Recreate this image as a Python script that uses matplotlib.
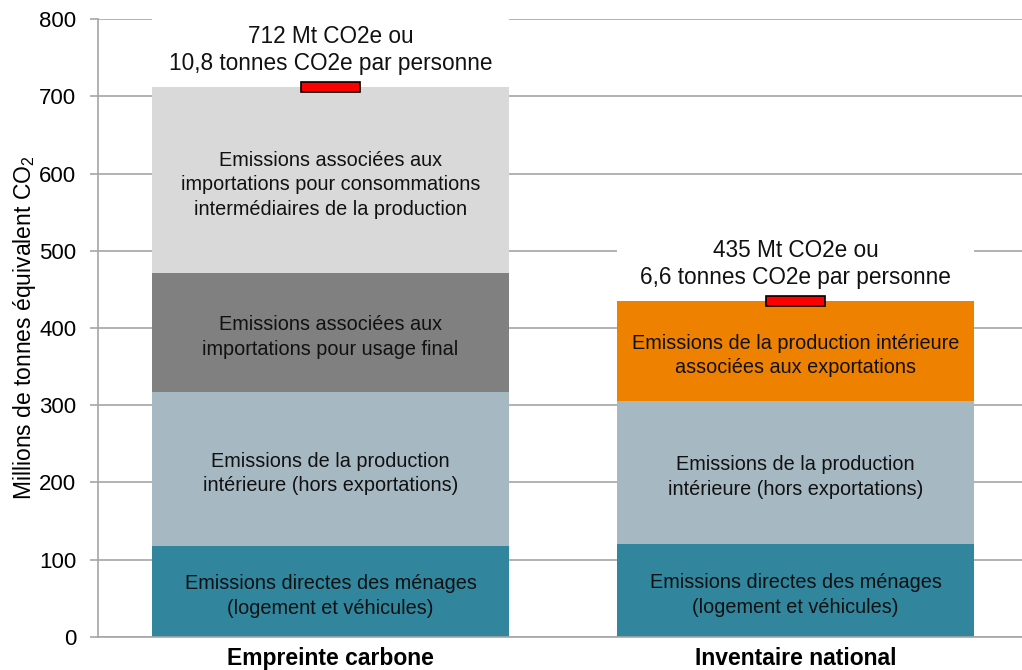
import numpy as np
import matplotlib.pyplot as plt
from matplotlib.patches import Rectangle

plt.rcParams['font.family'] = ['Liberation Sans', 'DejaVu Sans']
plt.rcParams['mathtext.fontset'] = 'custom'
plt.rcParams['mathtext.rm'] = 'Liberation Sans'
plt.rcParams['mathtext.it'] = 'Liberation Sans:italic'

# Emissions en Mt CO2e, par bloc et par approche
categories = ['Empreinte carbone', 'Inventaire national']
menages = [118, 121]
production = [199, 185]
import_final = [154, 0]
import_interm = [241, 0]
exportations = [0, 129]
totaux = [712, 435]
annotations = ['712 Mt CO2e ou\n10,8 tonnes CO2e par personne',
               '435 Mt CO2e ou\n6,6 tonnes CO2e par personne']

segments = [
    (menages, '#31859C', 'Emissions directes des ménages\n(logement et véhicules)'),
    (production, '#A6B9C2', 'Emissions de la production\nintérieure (hors exportations)'),
    (import_final, '#808080', 'Emissions associées aux\nimportations pour usage final'),
    (import_interm, '#D9D9D9', 'Emissions associées aux\nimportations pour consommations\nintermédiaires de la production'),
    (exportations, '#EE8100', 'Emissions de la production intérieure\nassociées aux exportations'),
]

fig = plt.figure(figsize=(10.22, 6.7), dpi=100)
ax = fig.add_axes([0.0959, 0.0493, 0.9041, 0.9223])

x = np.arange(len(categories))
width = 0.768
bottom = np.zeros(len(categories))
for vals, color, label in segments:
    vals = np.array(vals, dtype=float)
    ax.bar(x, vals, width, bottom=bottom, color=color, zorder=2)
    for i, v in enumerate(vals):
        if v > 0:
            ax.text(x[i], bottom[i] + v / 2 - 6, label, ha='center', va='center',
                    fontsize=14.3, color='#111111', linespacing=1.38, zorder=4)
    bottom += vals

# marqueurs rouges au niveau du total
for i, t in enumerate(totaux):
    ax.bar(x[i], 14, 0.125, bottom=t - 7, color='#FF0000', edgecolor='black',
           linewidth=1.2, zorder=5)
    ax.add_patch(Rectangle((x[i] - width / 2, t + 12), width, 80,
                           facecolor='white', edgecolor='none', zorder=3))
    ax.text(x[i], t + 48, annotations[i], ha='center', va='center',
            fontsize=16.3, color='#111111', linespacing=1.26, zorder=4)

ax.set_xlim(-0.5, 1.487)
ax.set_ylim(0, 800)
ax.set_yticks(np.arange(0, 801, 100))
ax.yaxis.grid(True, color='#A6A6A6', linewidth=1.2, zorder=0)
ax.set_axisbelow(True)
ax.set_xticks(x)
ax.set_xticklabels(categories, fontsize=16.5, fontweight='bold')
ax.tick_params(axis='x', length=0, pad=7)
ax.tick_params(axis='y', length=5.5, width=1.2, color='#A6A6A6', labelsize=16, pad=10)

for side in ['top', 'right']:
    ax.spines[side].set_visible(False)
ax.spines['left'].set_color('#A6A6A6')
ax.spines['left'].set_linewidth(1.2)
ax.spines['bottom'].set_color('#A6A6A6')
ax.spines['bottom'].set_linewidth(1.2)

ax.set_ylabel('Millions de tonnes équivalent CO$_2$', fontsize=16.5, labelpad=1)

fig.savefig('out.png', dpi=100)
